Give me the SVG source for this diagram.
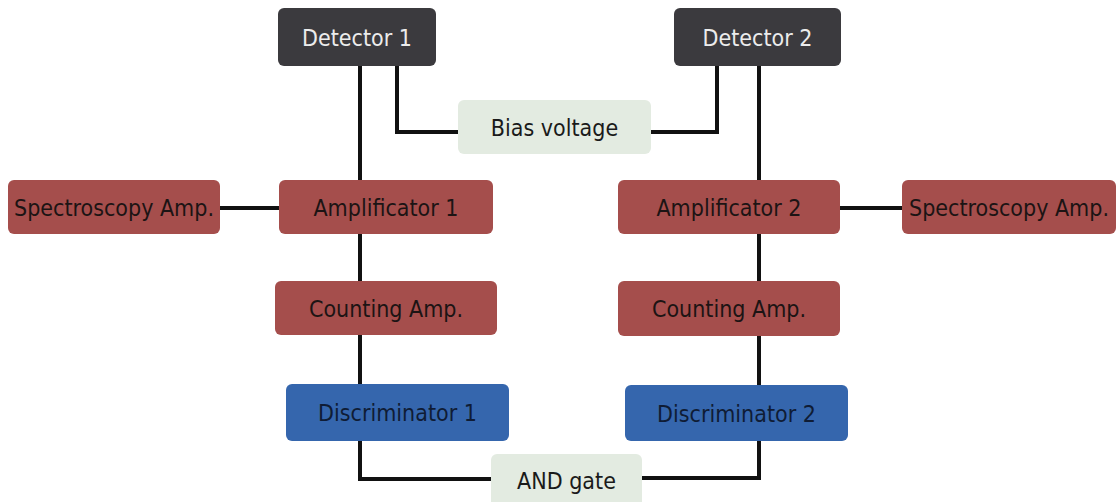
<svg xmlns="http://www.w3.org/2000/svg" width="1117" height="502" viewBox="0 0 1117 502">
<style>
  .box { stroke: none; }
  .det { fill: #3b3a3e; }
  .amp { fill: #a54e4c; }
  .disc { fill: #3566ad; }
  .aux { fill: #e3ebe1; }
  text { font-family: 'DejaVu Sans Condensed', 'DejaVu Sans', sans-serif; font-stretch: condensed; font-size: 23px; text-anchor: middle; }
  .tdet { fill: #ececec; }
  .tamp { fill: #1c1414; }
  .tdisc { fill: #0f1c35; }
  .taux { fill: #1a1a1a; }
  .wire { fill: none; stroke: #111111; stroke-width: 4; stroke-linejoin: miter; stroke-linecap: butt; }
</style>
<rect width="1117" height="502" fill="#ffffff"/>
<g id="connectors">
  <path class="wire" d="M360 66 V180"/>
  <path class="wire" d="M360 234 V281"/>
  <path class="wire" d="M360 335 V384"/>
  <path class="wire" d="M360 441 V479 H491"/>
  <path class="wire" d="M397 66 V132 H458"/>
  <path class="wire" d="M651 132 H717 V66"/>
  <path class="wire" d="M759 66 V180"/>
  <path class="wire" d="M759 234 V281"/>
  <path class="wire" d="M759 336 V385"/>
  <path class="wire" d="M759 441 V478 H642"/>
  <path class="wire" d="M220 208 H279"/>
  <path class="wire" d="M840 208 H902"/>
</g>
<g id="detector1"><rect class="box det" x="278" y="8" width="158" height="58" rx="6"/><text class="tdet" x="357" y="46">Detector 1</text></g>
<g id="detector2"><rect class="box det" x="674" y="8" width="167" height="58" rx="6"/><text class="tdet" x="757.5" y="46">Detector 2</text></g>
<g id="bias"><rect class="box aux" x="458" y="100" width="193" height="54" rx="6"/><text class="taux" x="554.5" y="135.5">Bias voltage</text></g>
<g id="spec1"><rect class="box amp" x="8" y="180" width="212" height="54" rx="6"/><text class="tamp" x="114" y="215.5">Spectroscopy Amp.</text></g>
<g id="amp1"><rect class="box amp" x="279" y="180" width="214" height="54" rx="6"/><text class="tamp" x="386" y="215.5">Amplificator 1</text></g>
<g id="amp2"><rect class="box amp" x="618" y="180" width="222" height="54" rx="6"/><text class="tamp" x="729" y="215.5">Amplificator 2</text></g>
<g id="spec2"><rect class="box amp" x="902" y="180" width="214" height="54" rx="6"/><text class="tamp" x="1009" y="215.5">Spectroscopy Amp.</text></g>
<g id="count1"><rect class="box amp" x="275" y="281" width="222" height="54" rx="6"/><text class="tamp" x="386" y="316.5">Counting Amp.</text></g>
<g id="count2"><rect class="box amp" x="618" y="281" width="222" height="55" rx="6"/><text class="tamp" x="729" y="317">Counting Amp.</text></g>
<g id="disc1"><rect class="box disc" x="286" y="384" width="223" height="57" rx="6"/><text class="tdisc" x="397.5" y="421">Discriminator 1</text></g>
<g id="disc2"><rect class="box disc" x="625" y="385" width="223" height="56" rx="6"/><text class="tdisc" x="736.5" y="421.5">Discriminator 2</text></g>
<g id="andgate"><rect class="box aux" x="491" y="454" width="151" height="60" rx="6"/><text class="taux" x="566.5" y="489">AND gate</text></g>
</svg>
